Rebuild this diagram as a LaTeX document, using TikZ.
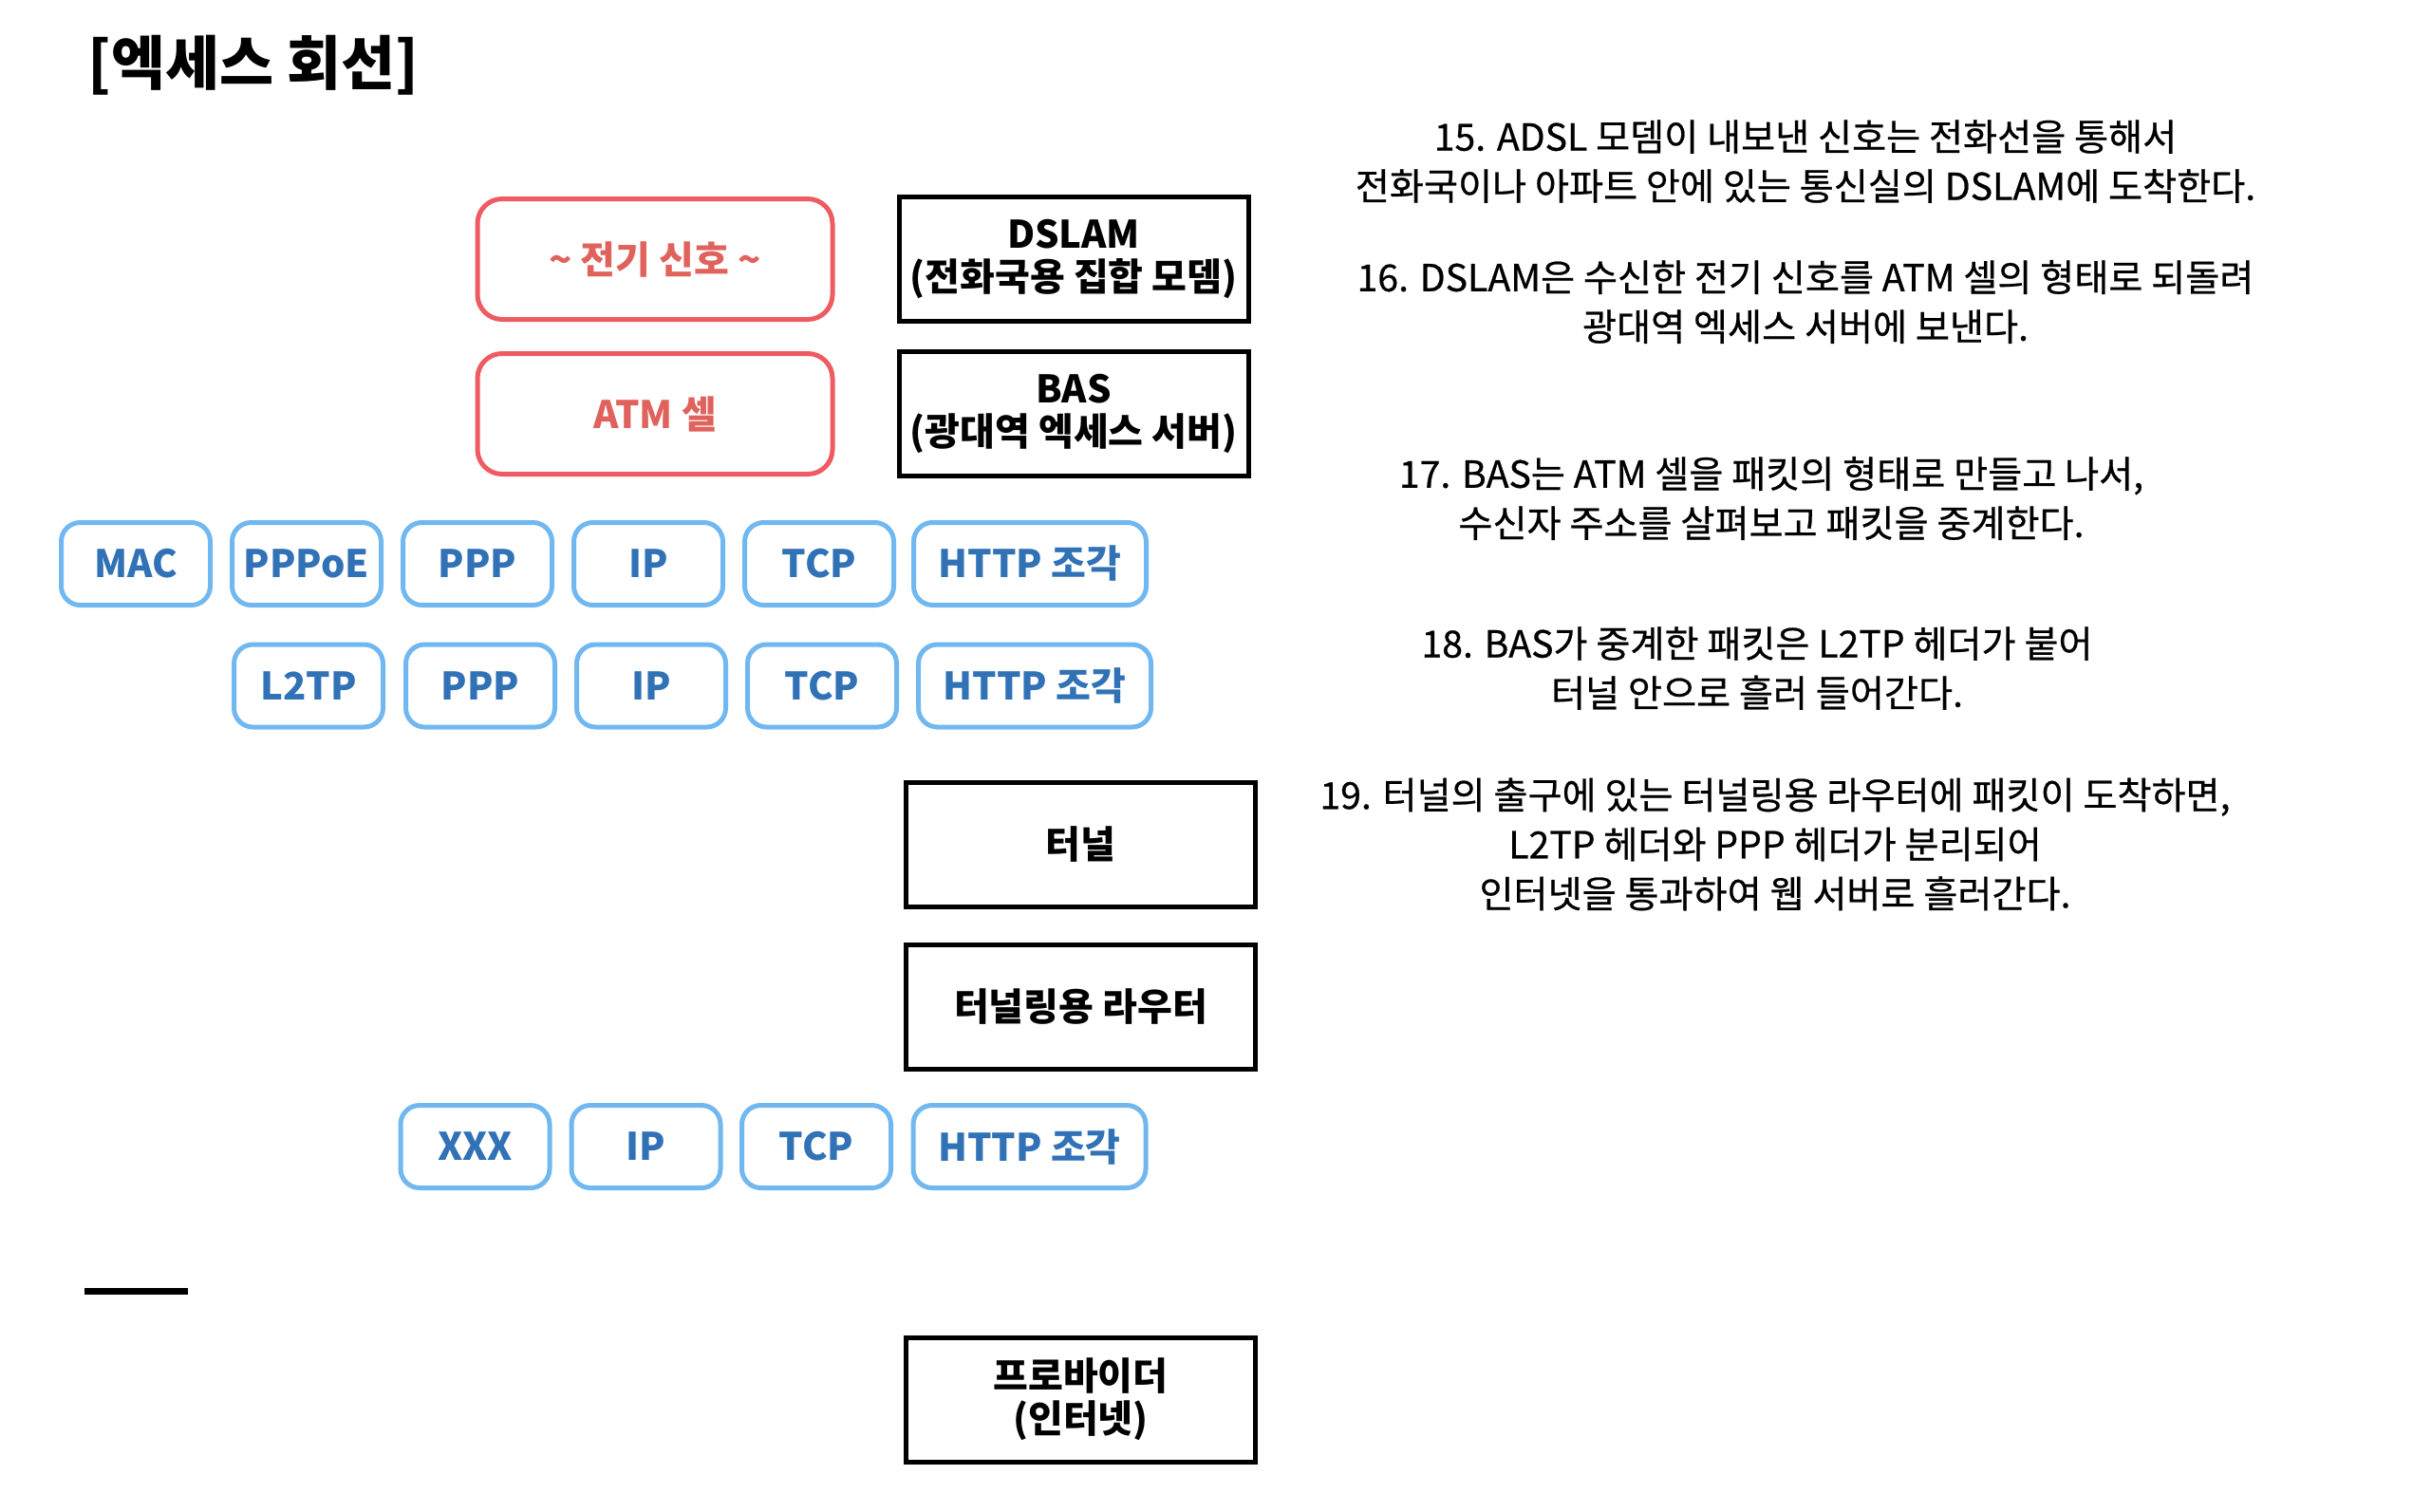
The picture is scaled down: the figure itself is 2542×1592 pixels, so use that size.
\documentclass[tikz,border=0pt]{standalone}
\usepackage{fontspec}
\setmainfont{Noto Sans CJK KR}
\newfontfamily\notefont{Noto Sans CJK KR}[FakeBold=0.6]
\begin{document}
\begin{tikzpicture}[x=0.5pt,y=-0.5pt,
  redbox/.style={draw=redline,line width=2.5pt,rounded corners=13pt,minimum width=187pt,minimum height=63.5pt,inner sep=0pt,text=redtext,font=\fontsize{20}{23}\selectfont\bfseries},
  blkbox/.style={draw=black,line width=2.5pt,minimum width=184pt,minimum height=65.5pt,inner sep=0pt,align=center,font=\fontsize{20}{22.5}\selectfont\bfseries},
  bluebox/.style={draw=blueline,line width=2.5pt,rounded corners=10pt,minimum width=78.5pt,minimum height=43.5pt,inner sep=0pt,text=bluetext,font=\fontsize{20}{23}\selectfont\bfseries},
  widebox/.style={bluebox,minimum width=122.5pt},
  note/.style={align=center,font=\notefont\fontsize{19.6}{26}\selectfont,inner sep=0pt},
]
\definecolor{redline}{HTML}{EF5B62}
\definecolor{redtext}{HTML}{E0625C}
\definecolor{blueline}{HTML}{72B8F0}
\definecolor{bluetext}{HTML}{3172B6}
\useasboundingbox[fill=white] (0,0) rectangle (2542,1592);

\node[font=\fontsize{31}{35}\selectfont\bfseries,inner sep=0pt] (title) at (267,69) {[엑세스 회선]};

\node[redbox] (sig) at (690,273) {\textasciitilde{} 전기 신호 \textasciitilde};
\node[redbox] (atm) at (690,436) {ATM 셀};
\node[blkbox] (dslam) at (1131,273) {DSLAM\\(전화국용 집합 모뎀)};
\node[blkbox] (bas) at (1131,436) {BAS\\(광대역 엑세스 서버)};

\node[bluebox] (mac) at (143,594) {MAC};
\node[bluebox] (pppoe) at (323,594) {PPPoE};
\node[bluebox] (ppp1) at (503,594) {PPP};
\node[bluebox] (ip1) at (683,594) {IP};
\node[bluebox] (tcp1) at (863,594) {TCP};
\node[widebox] (http1) at (1085,594) {HTTP 조각};

\node[bluebox] (l2tp) at (325,722.5) {L2TP};
\node[bluebox] (ppp2) at (506,722.5) {PPP};
\node[bluebox] (ip2) at (686,722.5) {IP};
\node[bluebox] (tcp2) at (866,722.5) {TCP};
\node[widebox] (http2) at (1090,722.5) {HTTP 조각};

\node[blkbox] (tunnel) at (1138.5,889.5) {터널};
\node[blkbox] (router) at (1138.5,1060.5) {터널링용 라우터};

\node[bluebox] (xxx) at (500.5,1208) {XXX};
\node[bluebox] (ip3) at (680.5,1208) {IP};
\node[bluebox] (tcp3) at (860,1208) {TCP};
\node[widebox] (http3) at (1084.5,1208) {HTTP 조각};

\coordinate (l1) at (89,1360);
\coordinate (l2) at (198,1360);
\draw[line width=3.5pt] (l1) -- (l2);

\node[blkbox] (prov) at (1138.5,1474.5) {프로바이더\\(인터넷)};

\node[note] (n15) at (1902,170) {15. ADSL 모뎀이 내보낸 신호는 전화선을 통해서\\전화국이나 아파트 안에 있는 통신실의 DSLAM에 도착한다.};
\node[note] (n16) at (1902,318) {16. DSLAM은 수신한 전기 신호를 ATM 셀의 형태로 되돌려\\광대역 엑세스 서버에 보낸다.};
\node[note] (n17) at (1866,525) {17. BAS는 ATM 셀을 패킷의 형태로 만들고 나서,\\수신자 주소를 살펴보고 패킷을 중계한다.};
\node[note] (n18) at (1851,704) {18. BAS가 중계한 패킷은 L2TP 헤더가 붙어\\터널 안으로 흘러 들어간다.};
\node[note] (n19) at (1870,889.5) {19. 터널의 출구에 있는 터널링용 라우터에 패킷이 도착하면,\\L2TP 헤더와 PPP 헤더가 분리되어\\인터넷을 통과하여 웹 서버로 흘러간다.};
\end{tikzpicture}
\end{document}
